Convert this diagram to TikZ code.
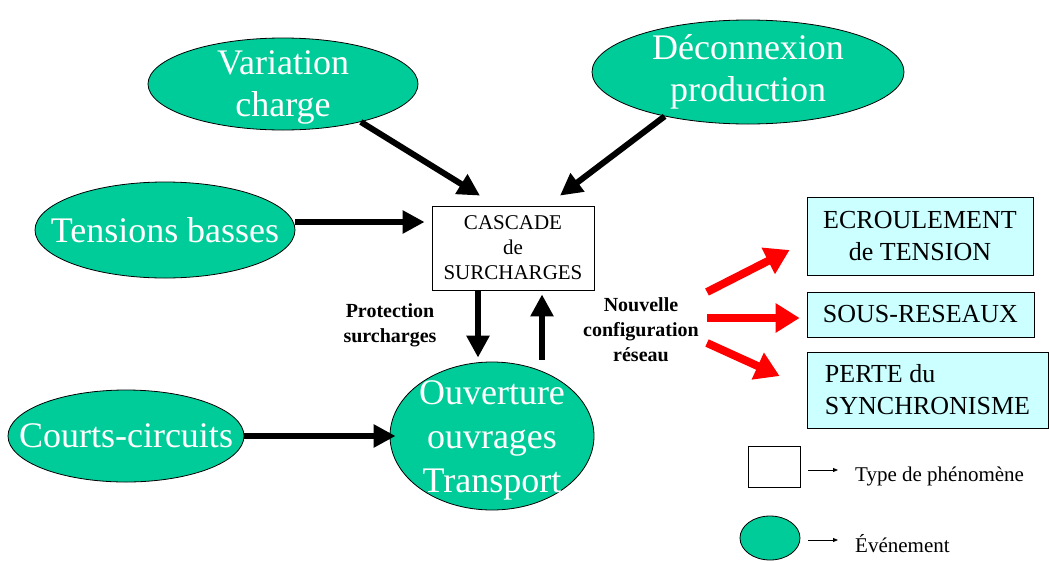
\documentclass[tikz,border=0pt]{standalone}
\usepackage{fontspec}
\setmainfont{Liberation Serif}
\usetikzlibrary{shapes.geometric,arrows.meta,positioning}
\definecolor{evtgreen}{RGB}{0,204,153}
\definecolor{phencyan}{RGB}{204,255,255}
\tikzset{
  event/.style={ellipse,draw=black,fill=evtgreen,inner sep=0pt,line width=0.8pt},
  evttext/.style={text=white,align=center,inner sep=0pt,font=\fontsize{36}{42}\selectfont},
  phenom/.style={rectangle,draw=black,fill=phencyan,inner sep=0pt,line width=0.8pt,font=\fontsize{26}{32}\selectfont},
  blkarrow/.style={line width=6pt,-{Triangle[length=22pt,width=22pt]}},
  redarrow/.style={red,line width=8pt,-{Triangle[length=24pt,width=28pt]}},
  legarrow/.style={line width=0.8pt,-{Triangle[length=5pt,width=4pt]}},
  boldlabel/.style={align=center,inner sep=0pt,font=\bfseries\fontsize{20}{25}\selectfont},
}
\begin{document}
\begin{tikzpicture}[x=1pt,y=-1pt]
  \useasboundingbox (0,0) rectangle (1049,560);
  % Evenements
  \node[event,minimum width=270,minimum height=92,
        label={[evttext,yshift=-3pt]center:Variation\\charge}] (var) at (283,84) {};
  \node[event,minimum width=312,minimum height=104,
        label={[evttext]center:Déconnexion\\production}] (deco) at (748,72) {};
  \node[event,minimum width=260,minimum height=96,
        label={[evttext]center:Tensions basses}] (tens) at (165,230) {};
  \node[event,minimum width=236,minimum height=92,
        label={[evttext]center:Courts-circuits}] (courts) at (126,436) {};
  \node[event,minimum width=204,minimum height=148,
        label={[evttext,yshift=-4pt,font=\fontsize{36}{44}\selectfont]center:Ouverture\\ouvrages\\Transport}] (ouv) at (492,436) {};
  % Phenomene central
  \node[draw=black,fill=white,line width=0.8pt,minimum width=162,minimum height=84,inner sep=0pt,
        align=center,font=\fontsize{21}{25}\selectfont] (cascade) at (513,248) {CASCADE\\de\\SURCHARGES};
  % Consequences
  \node[phenom,minimum width=226,minimum height=78,align=center] (ecr) at (920,236) {ECROULEMENT\\de TENSION};
  \node[phenom,minimum width=227,minimum height=45] (sous) at (920.5,314.5) {SOUS-RESEAUX};
  \node[phenom,minimum width=241,minimum height=76,align=left] (perte) at (927.5,390) {PERTE du\\SYNCHRONISME};
  % Etiquettes
  \node[boldlabel] (prot) at (390,325) {Protection\\surcharges};
  \node[boldlabel] (nouv) at (641,330) {Nouvelle\\configuration\\réseau};
  % Fleches noires
  \draw[blkarrow] (var.-26) -- ([xshift=-33pt,yshift=10pt]cascade.north);
  \draw[blkarrow] (deco.-152) -- ([xshift=47pt,yshift=10pt]cascade.north);
  \draw[blkarrow] ([yshift=8pt]tens.east) -- ([xshift=-7pt,yshift=8pt]tens.east -| cascade.west);
  \draw[blkarrow] ([xshift=-35pt]cascade.south) -- ([xshift=-35pt,yshift=4pt]cascade.south |- ouv.north);
  \draw[blkarrow] ([xshift=29pt,yshift=2pt]cascade.south |- ouv.north) -- ([xshift=29pt,yshift=-4pt]cascade.south);
  \draw[blkarrow] (courts.east) -- ([xshift=6pt]ouv.west);
  % Fleches rouges
  \coordinate (src1) at (707,292);
  \coordinate (src2) at (707,318);
  \coordinate (src3) at (707,343);
  \draw[redarrow] (src1) -- ([xshift=-17pt,yshift=-14pt]ecr.west);
  \draw[redarrow] (src2) -- ([xshift=-7pt]src2 -| sous.west);
  \draw[redarrow] (src3) -- ([xshift=-27pt,yshift=14pt]perte.west);
  % Legende
  \node[draw=black,fill=white,line width=0.8pt,minimum width=52,minimum height=41,inner sep=0pt] (legbox) at (774,466.5) {};
  \node[event,minimum width=60,minimum height=44] (legell) at (770,538) {};
  \node[anchor=west,inner sep=0pt,font=\fontsize{21}{25}\selectfont] (legtxt1) at (855,476) {Type de phénomène};
  \node[anchor=west,inner sep=0pt,font=\fontsize{21}{25}\selectfont] (legtxt2) at (855,544) {Événement};
  \draw[legarrow] ([xshift=8pt,yshift=-3.5pt]legbox.east) -- ([xshift=-17pt,yshift=6pt]legtxt1.west);
  \draw[legarrow] ([xshift=8pt,yshift=-2pt]legell.east) -- ([xshift=-17pt,yshift=4pt]legtxt2.west);
\end{tikzpicture}
\end{document}
